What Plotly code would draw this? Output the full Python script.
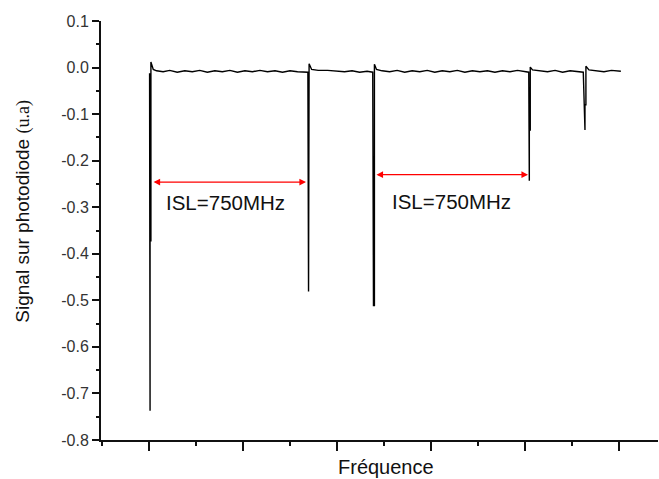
import plotly.graph_objects as go

# Frequency axis in arbitrary units (one major tick = 1 unit)
freq = [0.006, 0.011, 0.011, 0.020, 0.020, 0.045, 0.08, 0.15, 0.22, 0.30, 0.38, 0.46, 0.54,
        0.62, 0.70, 0.78, 0.86, 0.94, 1.02, 1.10, 1.18, 1.26, 1.34, 1.42, 1.50, 1.58, 1.66,
        1.69, 1.697, 1.703, 1.73, 1.80, 1.90, 2.00, 2.08, 2.16, 2.24, 2.32, 2.38,
        2.388, 2.398, 2.398, 2.42, 2.48, 2.56, 2.64, 2.72, 2.80, 2.88, 2.96, 3.04, 3.12,
        3.20, 3.28, 3.36, 3.44, 3.52, 3.60, 3.68, 3.76, 3.84, 3.92, 4.00, 4.04,
        4.046, 4.046, 4.056, 4.056, 4.08, 4.16, 4.24, 4.32, 4.40, 4.48, 4.56, 4.62,
        4.638, 4.638, 4.648, 4.648, 4.68, 4.76, 4.84, 4.92, 5.02]
signal = [-0.012, -0.737, -0.372, -0.372, 0.012, -0.004, -0.007, -0.009, -0.006, -0.010, -0.007, -0.009, -0.006,
          -0.010, -0.007, -0.009, -0.006, -0.010, -0.007, -0.009, -0.006, -0.009, -0.007, -0.010, -0.007, -0.009, -0.010,
          -0.010, -0.481, 0.008, -0.004, -0.006, -0.006, -0.007, -0.009, -0.007, -0.010, -0.008, -0.010,
          -0.511, -0.511, 0.007, -0.004, -0.007, -0.009, -0.006, -0.010, -0.007, -0.009, -0.006, -0.010, -0.007,
          -0.009, -0.006, -0.010, -0.007, -0.009, -0.007, -0.010, -0.007, -0.009, -0.006, -0.009, -0.010,
          -0.243, -0.134, -0.134, 0.001, -0.005, -0.007, -0.009, -0.006, -0.010, -0.007, -0.009, -0.010,
          -0.134, -0.080, -0.080, 0.003, -0.005, -0.007, -0.009, -0.006, -0.008]

y_tickvals = [0.1, 0.0, -0.1, -0.2, -0.3, -0.4, -0.5, -0.6, -0.7, -0.8]
y_ticktext = ["0.1", "0.0", "-0.1", "-0.2", "-0.3", "-0.4", "-0.5", "-0.6", "-0.7", "-0.8"]

# ISL arrows (start, end, level) and labels
isl_arrows = [(0.032, 1.670, -0.246), (2.404, 4.032, -0.230)]
isl_labels = [(0.809, -0.290), (3.223, -0.288)]
isl_text = "ISL=750MHz"

FONT = "Liberation Sans, Arial, sans-serif"

fig = go.Figure()
fig.add_trace(go.Scatter(x=freq, y=signal, mode="lines",
                         line=dict(color="#000000", width=1.4), showlegend=False))

annotations = []
for x0, x1, yv in isl_arrows:
    annotations.append(dict(x=x1, y=yv, ax=x0, ay=yv, xref="x", yref="y", axref="x", ayref="y",
                            text="", showarrow=True, arrowhead=2, startarrowhead=2,
                            arrowside="end+start", arrowsize=1.1, startarrowsize=1.1,
                            arrowwidth=1.2, arrowcolor="#ff0000", standoff=0, startstandoff=0))
for (lx, ly) in isl_labels:
    annotations.append(dict(x=lx, y=ly, xref="x", yref="y", text=isl_text, showarrow=False,
                            font=dict(family=FONT, size=20.5, color="#111111"),
                            xanchor="center", yanchor="middle"))

annotations.append(dict(x=-0.140, y=0.545, xref="paper", yref="paper",
                        text="Signal sur photodiode <span style=\"font-family:'Liberation Serif',serif;font-size:18px\">(u.a)</span>",
                        textangle=-90, showarrow=False,
                        font=dict(family=FONT, size=19, color="#111111"),
                        xanchor="center", yanchor="middle"))
annotations.append(dict(x=0.511, y=-0.064, xref="paper", yref="paper", text="Fréquence",
                        showarrow=False, font=dict(family=FONT, size=20, color="#111111"),
                        xanchor="center", yanchor="middle"))

fig.update_layout(
    width=659, height=479,
    margin=dict(l=101, r=1, t=21, b=39),
    paper_bgcolor="white", plot_bgcolor="white",
    annotations=annotations,
    xaxis=dict(range=[-0.511, 5.415], showgrid=False, zeroline=False,
               showline=True, linecolor="#111111", linewidth=2,
               ticks="outside", ticklen=9, tickwidth=2, tickcolor="#111111",
               tick0=0, dtick=1, showticklabels=False,
               minor=dict(ticks="outside", ticklen=4, tickwidth=2, tickcolor="#111111", dtick=0.5)),
    yaxis=dict(range=[-0.8, 0.1], showgrid=False, zeroline=False,
               showline=True, linecolor="#111111", linewidth=2,
               ticks="outside", ticklen=7, tickwidth=2, tickcolor="#111111",
               tickmode="array", tickvals=y_tickvals, ticktext=y_ticktext,
               tickfont=dict(family=FONT, size=16, color="#333333"),
               minor=dict(ticks="outside", ticklen=3, tickwidth=2, tickcolor="#111111",
                          tickvals=[0.05, -0.05, -0.15, -0.25, -0.35, -0.45, -0.55, -0.65, -0.75])),
)

fig.write_html("out.html", config={"displayModeBar": False},
               post_script="document.body.style.margin='0';document.body.style.overflow='hidden';")
